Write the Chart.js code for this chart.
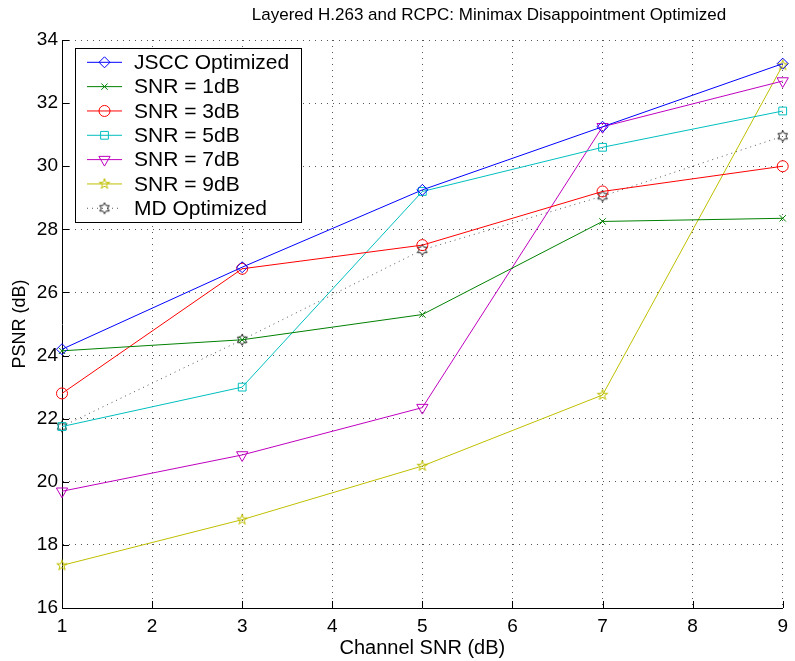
<!DOCTYPE html>
<html>
<head>
<meta charset="utf-8">
<script src="https://cdn.jsdelivr.net/npm/chart.js@4.4.1/dist/chart.umd.min.js"></script>
<style>
  html, body { margin: 0; padding: 0; background: #fff; }
  #wrap { width: 795px; height: 661px; }
</style>
</head>
<body>
<div id="wrap"><canvas id="chart" width="795" height="661"></canvas></div>
<script>
// ---- data ----
var channelSnr = [1, 3, 5, 7, 9];
var jsccOpt    = [24.2, 26.8, 29.25, 31.25, 33.25];
var snr1       = [24.15, 24.5, 25.3, 28.25, 28.35];
var snr3       = [22.8, 26.75, 27.5, 29.2, 30.0];
var snr5       = [21.75, 23.0, 29.2, 30.6, 31.75];
var snr7       = [19.7, 20.85, 22.35, 31.25, 32.7];
var snr9       = [17.35, 18.8, 20.5, 22.75, 33.2];
var mdOpt      = [21.75, 24.5, 27.35, 29.05, 30.95];

var seriesLabels = ['JSCC Optimized', 'SNR = 1dB', 'SNR = 3dB', 'SNR = 5dB', 'SNR = 7dB', 'SNR = 9dB', 'MD Optimized'];
var xTickValues = [1, 2, 3, 4, 5, 6, 7, 8, 9];
var yTickValues = [16, 18, 20, 22, 24, 26, 28, 30, 32, 34];

var FONT = '"Liberation Sans", Arial, Helvetica, sans-serif';

// star-shaped markers (pentagram / hexagram) drawn into small canvases
function starMarker(points, rOut, rIn, color) {
    var size = Math.ceil(rOut * 2 + 3);
    var c = document.createElement('canvas');
    c.width = size; c.height = size;
    var g = c.getContext('2d');
    var cx = size / 2, cy = size / 2;
    g.strokeStyle = color;
    g.lineWidth = 1;
    g.beginPath();
    for (var i = 0; i < points * 2; i++) {
        var a = -Math.PI / 2 + i * Math.PI / points;
        var r = (i % 2) ? rIn : rOut;
        var px = cx + Math.cos(a) * r, py = cy + Math.sin(a) * r;
        if (i === 0) g.moveTo(px, py); else g.lineTo(px, py);
    }
    g.closePath();
    g.stroke();
    return c;
}
var pentagram = starMarker(5, 5.5, 5.5 * 0.382, '#bfbf00');
var hexagram = starMarker(6, 5.5, 5.5 / Math.sqrt(3), '#222222');

function pts(ys) {
    return channelSnr.map(function (x, i) { return { x: x, y: ys[i] }; });
}

function ds(label, ys, color, style, radius, rotation, dash) {
    return {
        label: label,
        data: pts(ys),
        borderColor: color,
        backgroundColor: color,
        borderWidth: 1,
        borderDash: dash || [],
        pointStyle: style,
        pointRadius: radius,
        pointRotation: rotation || 0,
        pointBorderColor: color,
        pointBackgroundColor: 'rgba(0,0,0,0)',
        pointBorderWidth: 1,
        pointHoverRadius: radius,
        tension: 0,
        fill: false,
        clip: false
    };
}

var datasets = [
    ds(seriesLabels[0], jsccOpt, '#0000ff', 'rectRot', 5.5),
    ds(seriesLabels[1], snr1, '#008000', 'crossRot', 4.5),
    ds(seriesLabels[2], snr3, '#ff0000', 'circle', 5.5),
    ds(seriesLabels[3], snr5, '#00bfbf', 'rect', 5.5),
    ds(seriesLabels[4], snr7, '#bf00bf', 'triangle', 6.5, 180),
    ds(seriesLabels[5], snr9, '#bfbf00', pentagram, 5.5),
    ds(seriesLabels[6], mdOpt, '#555555', hexagram, 5.5, 0, [1, 4])
];

// inward major ticks, title over the axes, boxed legend
var matlabDecor = {
    id: 'matlabDecor',
    afterDraw: function (chart) {
        var ctx = chart.ctx;
        var a = chart.chartArea;
        var xs = chart.scales.x, ys = chart.scales.y;
        ctx.save();
        ctx.strokeStyle = '#000';
        ctx.lineWidth = 1;
        ctx.setLineDash([]);
        ctx.beginPath();
        xTickValues.forEach(function (v) {
            var px = Math.round(xs.getPixelForValue(v)) + 0.5;
            ctx.moveTo(px, a.bottom); ctx.lineTo(px, a.bottom - 7);
        });
        yTickValues.forEach(function (v) {
            var py = Math.round(ys.getPixelForValue(v)) + 0.5;
            ctx.moveTo(a.left, py); ctx.lineTo(a.left + 7, py);
        });
        ctx.stroke();

        // title
        ctx.fillStyle = '#000';
        ctx.font = '17px ' + FONT;
        ctx.textAlign = 'center';
        ctx.textBaseline = 'middle';
        ctx.fillText('Layered H.263 and RCPC: Minimax Disappointment Optimized', 489, 15);

        // legend box
        var bx = 75.5, by = 48.5, bw = 226, bh = 174, step = 24.33, y0 = 62.3;
        ctx.fillStyle = '#fff';
        ctx.fillRect(bx, by, bw, bh);
        ctx.strokeRect(bx, by, bw, bh);
        ctx.font = '21px ' + FONT;
        ctx.textAlign = 'left';
        chart.data.datasets.forEach(function (d, i) {
            var y = y0 + i * step;
            ctx.save();
            ctx.strokeStyle = d.borderColor;
            ctx.lineWidth = 1;
            ctx.setLineDash(d.borderDash || []);
            ctx.beginPath();
            ctx.moveTo(87, y); ctx.lineTo(122, y);
            ctx.stroke();
            ctx.setLineDash([]);
            ctx.fillStyle = 'rgba(0,0,0,0)';
            Chart.helpers.drawPoint(ctx, {
                pointStyle: d.pointStyle,
                radius: d.pointRadius,
                rotation: d.pointRotation,
                borderWidth: 1
            }, 104.5, y);
            ctx.restore();
            ctx.fillStyle = '#000';
            ctx.fillText(d.label, 134, y + 1);
        });
        ctx.restore();
    }
};

new Chart(document.getElementById('chart'), {
    type: 'line',
    data: { datasets: datasets },
    plugins: [matlabDecor],
    options: {
        responsive: false,
        animation: false,
        layout: { padding: { left: 0, right: 7, top: 40, bottom: 0 } },
        plugins: {
            legend: { display: false },
            title: { display: false },
            tooltip: { enabled: false }
        },
        scales: {
            x: {
                type: 'linear',
                min: 1, max: 9,
                afterBuildTicks: function (s) { s.ticks = xTickValues.map(function (v) { return { value: v }; }); },
                afterFit: function (s) { s.height = 53; },
                grid: { color: '#555', lineWidth: 1, drawTicks: false },
                border: { display: true, color: '#000', width: 1, dash: [1, 5] },
                ticks: { color: '#000', padding: 7, font: { family: FONT, size: 19 }, maxRotation: 0 },
                title: { display: true, text: 'Channel SNR (dB)', color: '#000', font: { family: FONT, size: 20 }, padding: { top: 0, bottom: 1 } }
            },
            y: {
                type: 'linear',
                min: 16, max: 34,
                afterBuildTicks: function (s) { s.ticks = yTickValues.map(function (v) { return { value: v }; }); },
                afterFit: function (s) { s.width = 62; },
                grid: { color: '#555', lineWidth: 1, drawTicks: false },
                border: { display: true, color: '#000', width: 1, dash: [1, 5] },
                ticks: { color: '#000', padding: 4, font: { family: FONT, size: 19 } },
                title: { display: true, text: 'PSNR (dB)', color: '#000', font: { family: FONT, size: 18 }, padding: { top: 9, bottom: 0 } }
            }
        }
    }
});
</script>
</body>
</html>
